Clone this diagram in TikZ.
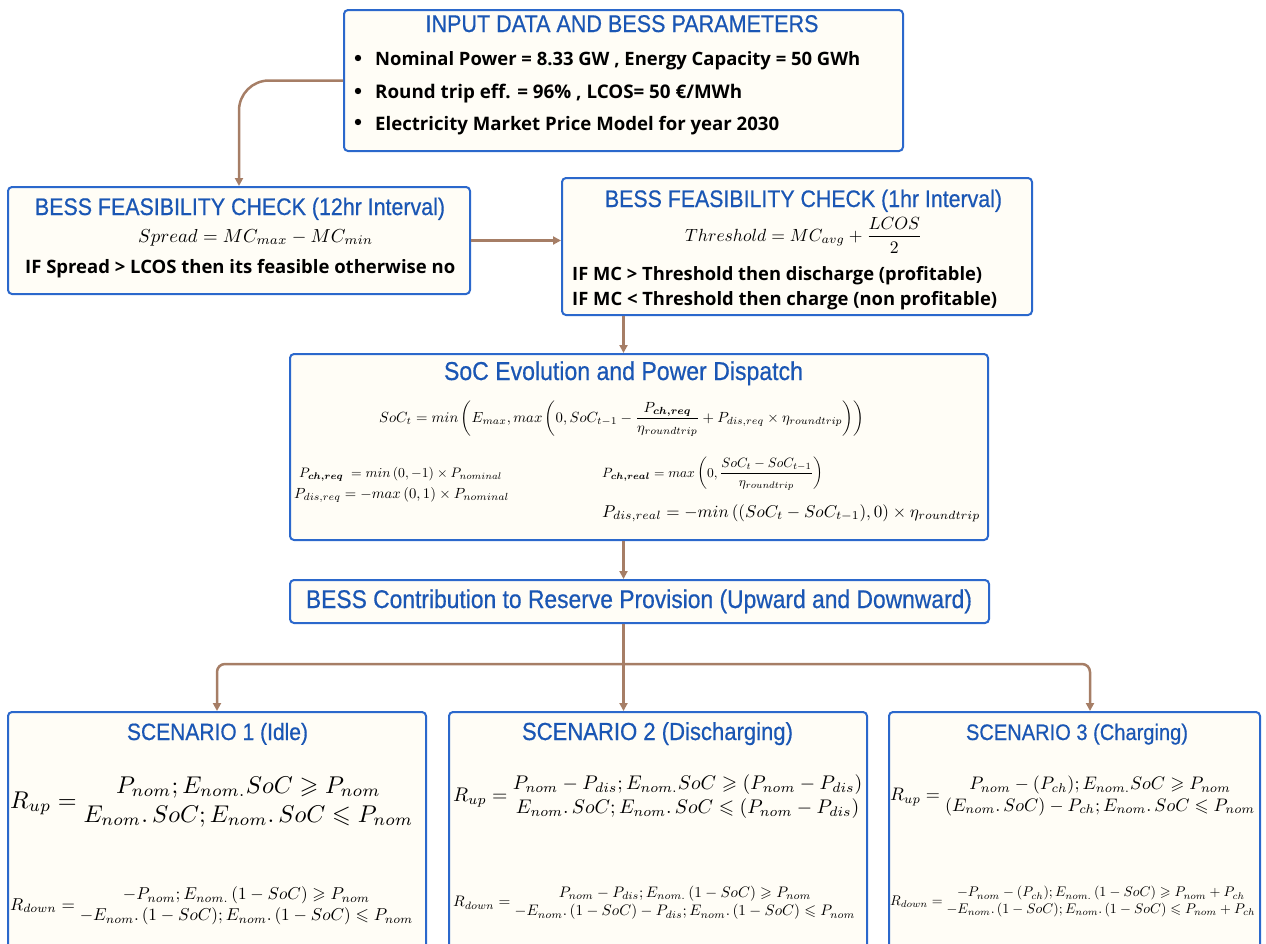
\documentclass[tikz,border=0pt]{standalone}
\usepackage{amsmath, amssymb}
\usepackage{graphicx}
\usepackage{fontspec}
\usepackage{tikz}
\usetikzlibrary{arrows.meta, positioning, calc}
\usepackage{xcolor}

\newfontfamily\ttlfont{Liberation Sans}[FakeBold=0.6]
\newfontfamily\bodyfont{Open Sans}
\definecolor{boxblue}{RGB}{43,104,204}
\definecolor{ttlblue}{RGB}{26,86,180}
\definecolor{boxfill}{RGB}{255,253,246}
\definecolor{flowbrown}{RGB}{166,126,102}
\newcommand{\fitw}[2]{\resizebox{#1pt}{!}{#2}}
\newcommand{\fitt}[2]{\resizebox{#1pt}{!}{\scalebox{1}[1.12]{#2}}}

\begin{document}
\begin{tikzpicture}[x=1pt, y=-1pt,
    panel/.style={draw=boxblue, line width=2pt, fill=boxfill, rounded corners=4pt, inner sep=0pt},
    ttl/.style={text=ttlblue, font=\ttlfont, inner sep=0pt, anchor=base},
    txt/.style={font=\bodyfont\bfseries, inner sep=0pt, anchor=base west},
    eq/.style={inner sep=0pt, anchor=base west},
    flow/.style={draw=flowbrown, line width=2.5pt, -{Triangle[length=8pt, width=8pt]}}]
    \clip (0,0) rectangle (1266,943);

    % Boxes
    \node[panel, minimum width=559pt, minimum height=141pt] (input) at (623.5,80.5) {};
    \node[panel, minimum width=462pt, minimum height=107pt] (feas12) at (239,240.5) {};
    \node[panel, minimum width=470pt, minimum height=137pt] (feas1) at (797,246.5) {};
    \node[panel, minimum width=698pt, minimum height=186pt] (soc) at (639,447) {};
    \node[panel, minimum width=699pt, minimum height=43pt] (reserve) at (639.5,601.5) {};
    \node[panel, minimum width=418pt, minimum height=250pt] (scen1) at (217,837) {};
    \node[panel, minimum width=418pt, minimum height=250pt] (scen2) at (658,837) {};
    \node[panel, minimum width=371pt, minimum height=250pt] (scen3) at (1074.5,837) {};

    % Input data
    \node[ttl] (inputT) at (622,32) {\fitt{393}{INPUT DATA AND BESS PARAMETERS}};
    \foreach \y in {58,91,122} \fill (358,\y) circle (3.2pt);
    \node[txt] (inputA) at (375,65) {\fitw{485}{Nominal Power = 8.33 GW , Energy Capacity = 50 GWh}};
    \node[txt] (inputB) at (375,98) {\fitw{367}{Round trip eff. = 96\% , LCOS= 50 €/MWh}};
    \node[txt] (inputC) at (375,130) {\fitw{404}{Electricity Market Price Model for year 2030}};

    % Feasibility, 12 hr
    \node[ttl] (feas12T) at (240,215) {\fitt{410}{BESS FEASIBILITY CHECK (12hr Interval)}};
    \node[eq] (feas12E) at (138,242) {\fitw{235}{$Spread = MC_{max} - MC_{min}$}};
    \node[txt] (feas12R) at (25,273) {\fitw{430}{IF Spread > LCOS then its feasible otherwise no}};

    % Feasibility, 1 hr
    \node[ttl] (feas1T) at (803.5,207) {\fitt{397}{BESS FEASIBILITY CHECK (1hr Interval)}};
    \node[eq] (feas1E) at (685,241) {\fitw{237}{$Threshold = MC_{avg} + \dfrac{LCOS}{2}$}};
    \node[txt] (feas1A) at (572,280) {\fitw{410}{IF MC > Threshold then discharge (profitable)}};
    \node[txt] (feas1B) at (572,305) {\fitw{425}{IF MC < Threshold then charge (non profitable)}};

    % SoC and dispatch
    \node[ttl] (socT) at (623.5,380) {\fitt{359}{SoC Evolution and Power Dispatch}};
    \node[eq] (socE) at (379,422) {\fitw{485}{$SoC_t = min\left(E_{max}, max\left(0, SoC_{t-1} - \dfrac{P_{\boldsymbol{ch,req}}}{\eta_{roundtrip}} + P_{dis,req}\times\eta_{roundtrip}\right)\right)$}};
    \node[eq] (chreq) at (299,477) {\fitw{203}{$P_{\boldsymbol{ch,req}} \;= min\,(0,-1)\times P_{nominal}$}};
    \node[eq] (disreq) at (294,498) {\fitw{215}{$P_{dis,req} = -max\,(0,1)\times P_{nominal}$}};
    \node[eq] (chreal) at (602,477) {\fitw{221}{$P_{\boldsymbol{ch,real}} = max\left(0,\dfrac{SoC_t - SoC_{t-1}}{\eta_{roundtrip}}\right)$}};
    \node[eq] (disreal) at (602,517) {\fitw{378}{$P_{dis,real} = -min\,((SoC_t - SoC_{t-1}),0)\times\eta_{roundtrip}$}};

    % Reserve
    \node[ttl] (reserveT) at (639,608) {\fitt{666}{BESS Contribution to Reserve Provision (Upward and Downward)}};

    % Scenarios
    \node[ttl] (scen1T) at (217.5,740) {\fitt{181}{SCENARIO 1 (Idle)}};
    \node[ttl] (scen2T) at (657.5,740) {\fitt{271}{SCENARIO 2 (Discharging)}};
    \node[ttl] (scen3T) at (1077,740) {\fitt{222}{SCENARIO 3 (Charging)}};

    \node[eq, anchor=west] (up1) at (10,802) {\fitw{403}{$R_{up} = \begin{array}{@{}c@{}} P_{nom}; E_{nom.}SoC \geqslant P_{nom}\\ E_{nom}.\,SoC; E_{nom}.\,SoC \leqslant P_{nom}\end{array}$}};
    \node[eq, anchor=west] (down1) at (10,906) {\fitw{403}{$R_{down} = \begin{array}{@{}c@{}} -P_{nom}; E_{nom.}\,(1-SoC) \geqslant P_{nom}\\ -E_{nom}.\,(1-SoC); E_{nom}.\,(1-SoC) \leqslant P_{nom}\end{array}$}};

    \node[eq, anchor=west] (up2) at (453,797) {\fitw{409}{$R_{up} = \begin{array}{@{}c@{}} P_{nom} - P_{dis}; E_{nom.}SoC \geqslant (P_{nom} - P_{dis})\\ E_{nom}.\,SoC; E_{nom}.\,SoC \leqslant (P_{nom} - P_{dis})\end{array}$}};
    \node[eq, anchor=west] (down2) at (453,903) {\fitw{402}{$R_{down} = \begin{array}{@{}c@{}} P_{nom} - P_{dis}; E_{nom.}\,(1-SoC) \geqslant P_{nom}\\ -E_{nom}.\,(1-SoC) - P_{dis}; E_{nom}.\,(1-SoC) \leqslant P_{nom}\end{array}$}};

    \node[eq, anchor=west] (up3) at (890,796) {\fitw{365}{$R_{up} = \begin{array}{@{}c@{}} P_{nom} - (P_{ch}); E_{nom.}SoC \geqslant P_{nom}\\ (E_{nom}.\,SoC) - P_{ch}; E_{nom}.\,SoC \leqslant P_{nom}\end{array}$}};
    \node[eq, anchor=west] (down3) at (890,902) {\fitw{365}{$R_{down} = \begin{array}{@{}c@{}} -P_{nom} - (P_{ch}); E_{nom.}\,(1-SoC) \geqslant P_{nom} + P_{ch}\\ -E_{nom}.\,(1-SoC); E_{nom}.\,(1-SoC) \leqslant P_{nom} + P_{ch}\end{array}$}};

    % Arrows
    \draw[flow, rounded corners=30pt] (input.west) -| (feas12.north);
    \draw[flow] (feas12.east) -- (feas12.east -| feas1.west);
    \draw[flow] (feas1.south -| input.south) -- (soc.north -| input.south);
    \draw[flow] (soc.south -| input.south) -- (reserve.north -| input.south);
    \coordinate (split) at ($(reserve.south -| input.south)+(0,40)$);
    \draw[flow] (reserve.south -| input.south) -- (scen2.north -| input.south);
    \draw[flow, rounded corners=8pt] (split) -| (scen1.north);
    \draw[flow, rounded corners=8pt] (split) -| ([xshift=15.5pt]scen3.north);
\end{tikzpicture}
\end{document}
